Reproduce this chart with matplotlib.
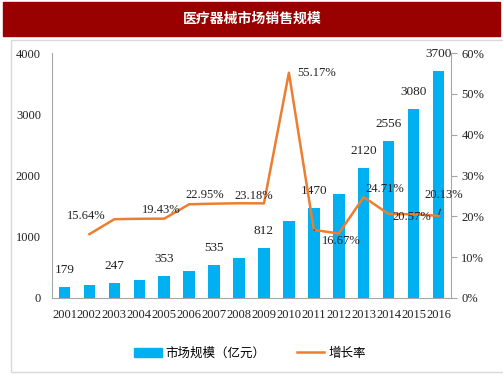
import numpy as np
import matplotlib.pyplot as plt
from matplotlib.patches import Rectangle
from matplotlib.lines import Line2D

plt.rcParams['font.family'] = ['Noto Sans CJK SC', 'DejaVu Sans']
num_font = ['Liberation Serif', 'DejaVu Serif']

years = ['2001', '2002', '2003', '2004', '2005', '2006', '2007', '2008',
         '2009', '2010', '2011', '2012', '2013', '2014', '2015', '2016']
market = [179, 207, 247, 296, 353, 434, 535, 660, 812, 1260, 1470, 1700,
          2120, 2556, 3080, 3700]
growth = [None, 15.64, 19.3, 19.4, 19.43, 22.95, 23.1, 23.2, 23.18, 55.17,
          16.67, 15.8, 24.71, 20.57, 20.5, 20.13]
bar_labels = {0: '179', 2: '247', 4: '353', 6: '535', 8: '812', 10: '1470',
              12: '2120', 13: '2556', 14: '3080', 15: '3700'}

title = '医疗器械市场销售规模'
bar_name = '市场规模（亿元）'
line_name = '增长率'

blue = '#00b0f0'
orange = '#ed7d31'
grey = '#a6a6a6'

fig = plt.figure(figsize=(5.03, 3.78), dpi=100)

# title banner and outer frame
fig.patches.append(Rectangle((3 / 503, 1 - 36 / 378), 497 / 503, 34 / 378,
                             transform=fig.transFigure, color='#990000', zorder=0))
fig.text(252 / 503, 1 - 19 / 378, title, color='white', fontsize=10,
         fontweight='bold', ha='center', va='center')
fig.patches.append(Rectangle((11 / 503, 1 - 372 / 378), 495 / 503, 332 / 378,
                             transform=fig.transFigure, fill=False,
                             edgecolor='#d9d9d9', lw=1, zorder=0))

ax = fig.add_axes([52 / 503, 1 - 298 / 378, 399 / 503, 245 / 378])
x = np.arange(len(years))
ax.bar(x, market, width=0.46, color=blue, zorder=2)
ax.set_xlim(-0.5, len(years) - 0.5)
ax.set_ylim(0, 4000)
ax.set_yticks([0, 1000, 2000, 3000, 4000])
ax.set_xticks(x)
ax.set_xticklabels(years)
ax.tick_params(axis='both', length=0, labelsize=9, colors='#222222')
ax.tick_params(axis='x', pad=8)
ax.tick_params(axis='y', pad=8)
for t in ax.get_xticklabels() + ax.get_yticklabels():
    t.set_family(num_font)
for s in ['top', 'right']:
    ax.spines[s].set_visible(False)
for s in ['left', 'bottom']:
    ax.spines[s].set_color(grey)

for i, lab in bar_labels.items():
    ax.annotate(lab, (x[i], market[i]), xytext=(0, 12.5), textcoords='offset points',
                ha='center', va='center', fontsize=9.5, color='#222222',
                family=num_font)

ax2 = ax.twinx()
gx = [i for i, g in enumerate(growth) if g is not None]
gy = [g for g in growth if g is not None]
ax2.plot(gx, gy, color=orange, lw=1.8, zorder=3)
ax2.set_ylim(0, 60)
ax2.set_yticks(np.arange(0, 61, 10))
ax2.set_yticklabels(['%d%%' % v for v in range(0, 61, 10)])
ax2.tick_params(axis='y', length=4, color=grey, labelsize=9, colors='#222222')
for t in ax2.get_yticklabels():
    t.set_family(num_font)
for s in ['top', 'left', 'bottom']:
    ax2.spines[s].set_visible(False)
ax2.spines['right'].set_color(grey)

# growth labels: index, text, dx, dy (points), alignment, leader line
g_lab = [(1, '15.64%', -2, 13, 'center', False),
         (4, '19.43%', -2, 6, 'center', False),
         (6, '22.95%', -7, 6, 'center', False),
         (8, '23.18%', -7, 5, 'center', False),
         (9, '55.17%', 6, 0, 'left', False),
         (10, '16.67%', 6, -8, 'left', True),
         (12, '24.71%', 1, 6, 'left', False),
         (14, '20.57%', -1, -2, 'center', False),
         (15, '20.13%', 4, 15, 'center', True)]
for i, lab, dx, dy, ha, lead in g_lab:
    arrow = dict(arrowstyle='-', color='#222222', lw=0.8, shrinkA=4, shrinkB=1) if lead else None
    ax2.annotate(lab, (x[i], growth[i]), xytext=(dx, dy), textcoords='offset points',
                 ha=ha, va='center', fontsize=9, color='#222222', zorder=4,
                 family=num_font, arrowprops=arrow)

handles = [Rectangle((0, 0), 1, 1, color=blue), Line2D([], [], color=orange, lw=1.8)]
fig.legend(handles, [bar_name, line_name], loc='center', ncol=2, frameon=False,
           bbox_to_anchor=(250 / 503, 1 - 353 / 378), fontsize=9,
           handlelength=2.2, columnspacing=2.5, handletextpad=0.3)

fig.savefig('out.png', dpi=100)
